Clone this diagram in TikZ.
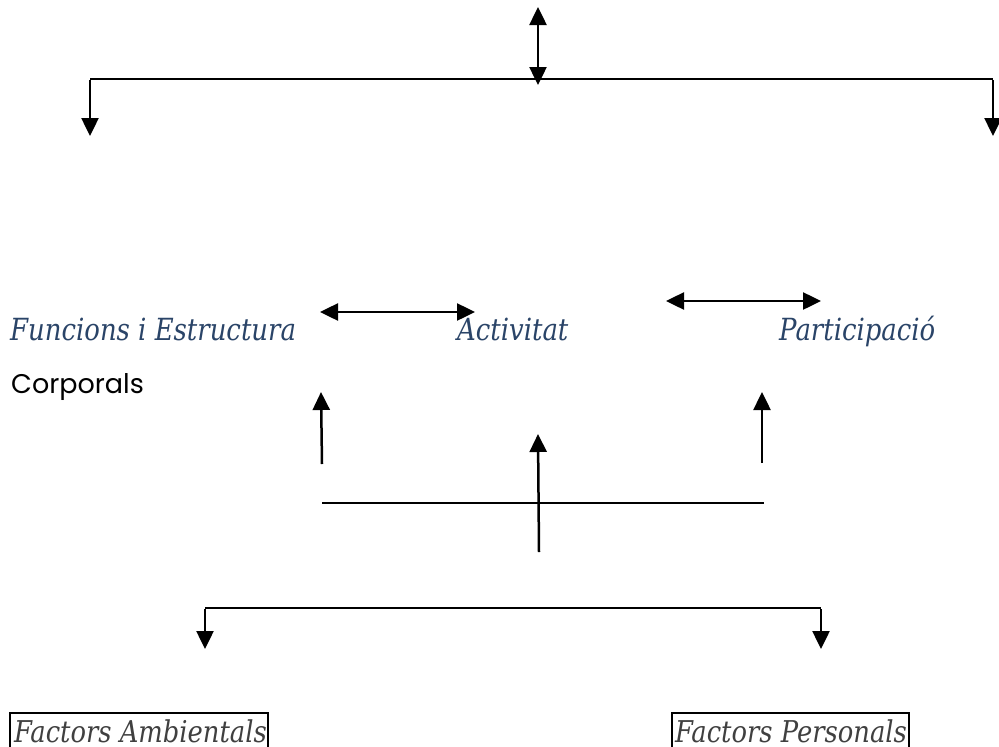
\documentclass[tikz,border=0pt]{standalone}
\usepackage{fontspec}
\setmainfont{DejaVu Serif}
\newfontfamily\geo[FakeStretch=0.85]{DejaVu Serif}
\newfontfamily\geob[FakeStretch=0.86]{DejaVu Serif}
\newfontfamily\gothic{Poppins}
\usetikzlibrary{arrows.meta}
\definecolor{headblue}{HTML}{2A4468}
\definecolor{factgray}{HTML}{404040}
\begin{document}
\begin{tikzpicture}[x=1pt,y=-1pt,
  arr/.style={line width=2.5pt,-{Triangle[width=17pt,length=18pt]}},
  darr/.style={line width=2.5pt,{Triangle[width=17pt,length=18pt]}-{Triangle[width=17pt,length=18pt]}},
  hline/.style={line width=2pt},
  head/.style={anchor=base west,inner sep=0pt,text=headblue,font=\geo\itshape\fontsize{30.5}{34}\selectfont},
  fact/.style={anchor=base west,inner sep=0pt,text=factgray,font=\geob\itshape\fontsize{30}{34}\selectfont},
  factbox/.style={draw=black,line width=2.4pt}]
\useasboundingbox (0,0) rectangle (999,747);
\fill[white] (0,0) rectangle (999,747);
% top bracket
\coordinate (tt) at (538,7);
\coordinate (tb) at (538,85);
\coordinate (tl) at (90,79);
\coordinate (tr) at (993,79);
\coordinate (tld) at (90,136);
\coordinate (trd) at (993,136);
\draw[darr] (tt) -- (tb);
\draw[hline] (tl) -- (tr);
\draw[arr] ([yshift=-1pt]tl) -- (tld);
\draw[arr] ([yshift=-1pt]tr) -- (trd);
% headings
\node[head] (fe) at (10,340) {Funcions i Estructura};
\node[head] (ac) at (457,340) {Activitat};
\node[head] (pa) at (779,340) {Participació};
\node[anchor=base west,inner sep=0pt,font=\gothic\fontsize{27}{31}\selectfont] (co) at (11,393) {Corporals};
% double arrows
\coordinate (d1l) at (320,312);
\coordinate (d1r) at (475,312);
\coordinate (d2l) at (666,301);
\coordinate (d2r) at (821,301);
\draw[darr] (d1l) -- (d1r);
\draw[darr] (d2l) -- (d2r);
% up arrows
\coordinate (u1b) at (322,464);
\coordinate (u1t) at (321,392);
\coordinate (u2b) at (762,463);
\coordinate (u2t) at (762,392);
\coordinate (u3b) at (539,552);
\coordinate (u3t) at (538,434);
\draw[arr] (u1b) -- (u1t);
\draw[arr] (u2b) -- (u2t);
\draw[arr] (u3b) -- (u3t);
\coordinate (ml) at (322,503);
\coordinate (mr) at (764,503);
\draw[hline] (ml) -- (mr);
% bottom bracket
\coordinate (bl) at (205,608);
\coordinate (br) at (821,608);
\coordinate (bld) at (205,649);
\coordinate (brd) at (821,649);
\draw[hline] (bl) -- (br);
\draw[arr] ([yshift=-1pt]bl) -- (bld);
\draw[arr] ([yshift=-1pt]br) -- (brd);
% factor boxes
\node[fact] (fa) at (14,742) {Factors Ambientals};
\node[fact] (fp) at (675,742) {Factors Personals};
\draw[factbox] (10,760) -- (10,713) -- (268,713) -- (268,760);
\draw[factbox] (672,760) -- (672,713) -- (909,713) -- (909,760);
\end{tikzpicture}
\end{document}
